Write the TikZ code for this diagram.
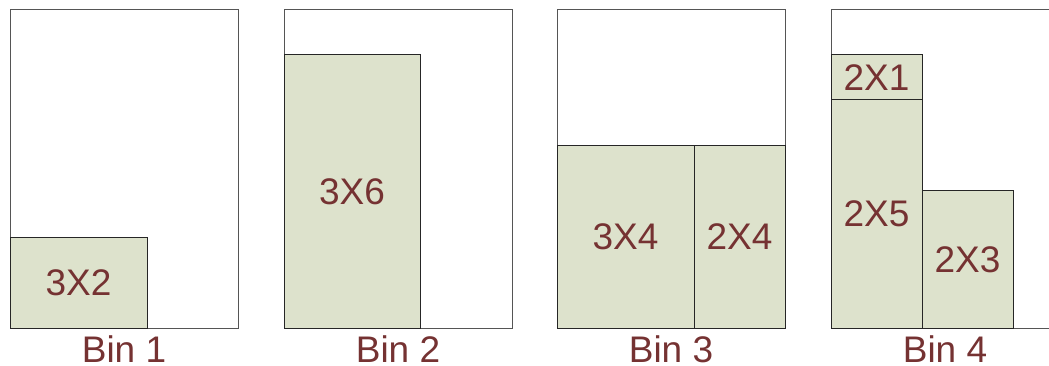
\documentclass[tikz,border=0pt]{standalone}
\usepackage{fontspec}
\setmainfont{Liberation Sans}
\definecolor{piecefill}{RGB}{221,226,204}
\definecolor{labelred}{RGB}{117,50,50}
\definecolor{bincol}{RGB}{85,85,85}
\begin{document}
\begin{tikzpicture}[x=1pt,y=-1pt,
  binbox/.style={draw=bincol,line width=1pt,fill=white,rectangle,inner sep=0pt,outer sep=0pt},
  piece/.style={draw=black!85,line width=1pt,fill=piecefill,rectangle,inner sep=0pt,outer sep=0pt,
    text=labelred,font=\fontsize{37}{40}\selectfont},
  binlabel/.style={text=labelred,font=\fontsize{37}{40}\selectfont,inner sep=0pt}]
  \useasboundingbox (0,0) rectangle (1049,366);
  \clip (0,0) rectangle (1049,366);
  % unit square = 45.6 px; bins are 5 x 7 units
  % Bin 1
  \node[binbox,minimum width=228,minimum height=318] (b1) at (124,169) {};
  \node[piece,minimum width=137,minimum height=91] (p32) at (78.5,282.5) {3X2};
  \node[binlabel] (l1) at (124,349) {Bin 1};
  % Bin 2
  \node[binbox,minimum width=228,minimum height=318] (b2) at (398,169) {};
  \node[piece,minimum width=136,minimum height=273] (p36) at (352,191.5) {3X6};
  \node[binlabel] (l2) at (398,349) {Bin 2};
  % Bin 3
  \node[binbox,minimum width=228,minimum height=318] (b3) at (671,169) {};
  \node[piece,minimum width=137,minimum height=182] (p34) at (625.5,237) {3X4};
  \node[piece,minimum width=91,minimum height=182] (p24) at (739.5,237) {2X4};
  \node[binlabel] (l3) at (671,349) {Bin 3};
  % Bin 4 (runs past the right edge)
  \node[binbox,minimum width=228,minimum height=318] (b4) at (945,169) {};
  \node[piece,minimum width=91,minimum height=45.5] (p21) at (876.5,77.5) {2X1};
  \node[piece,minimum width=91,minimum height=228] (p25) at (876.5,214) {2X5};
  \node[piece,minimum width=91,minimum height=137] (p23) at (967.5,259.5) {2X3};
  \node[binlabel] (l4) at (945,349) {Bin 4};
\end{tikzpicture}
\end{document}
